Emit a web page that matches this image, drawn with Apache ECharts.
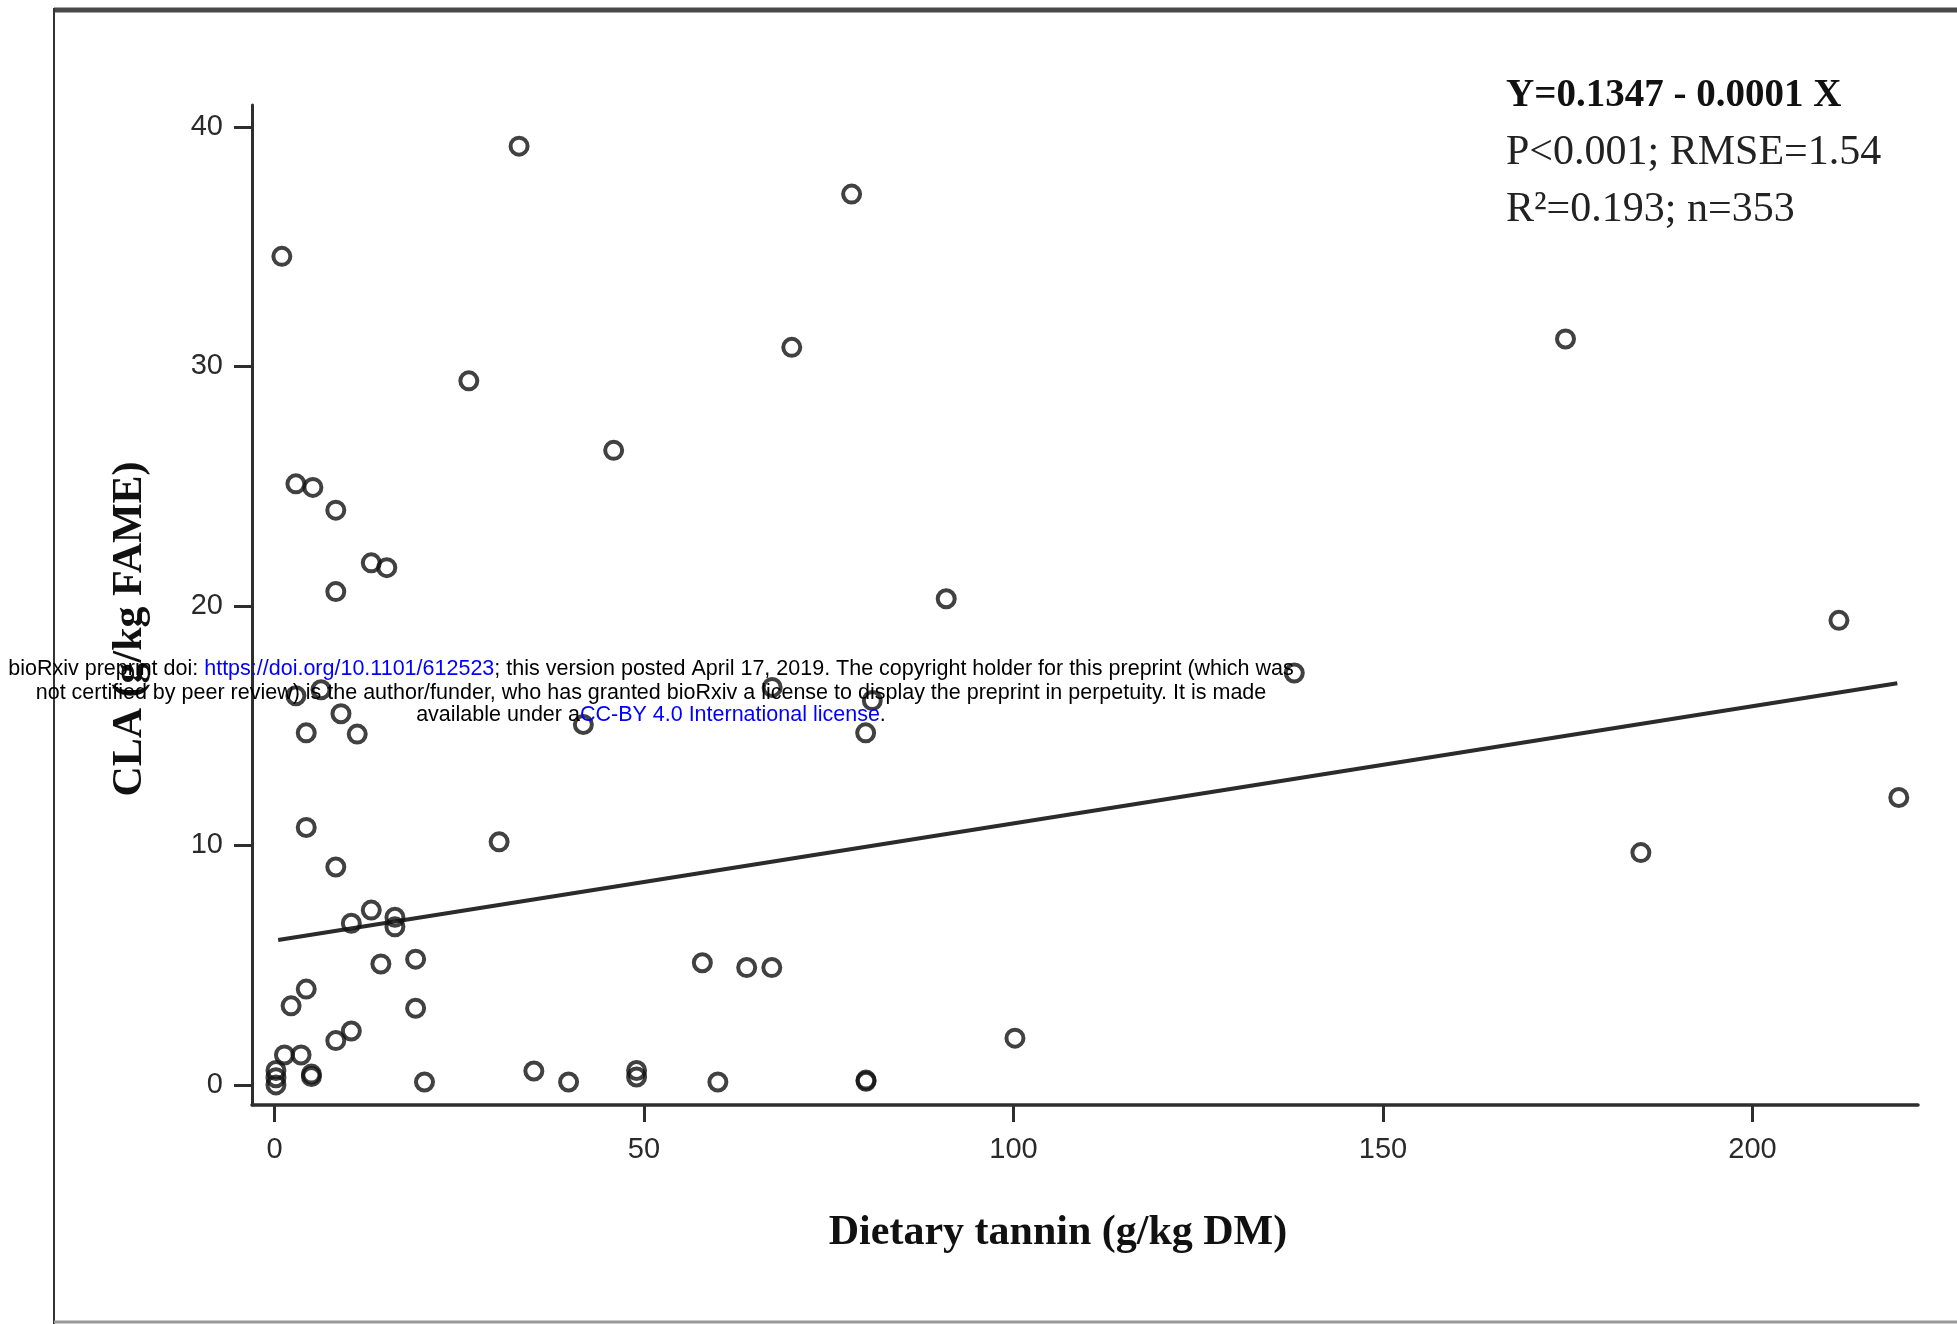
<!DOCTYPE html>
<html>
<head>
<meta charset="utf-8">
<title>CLA vs dietary tannin</title>
<script src="https://cdn.jsdelivr.net/npm/echarts@6/dist/echarts.min.js"></script>
<style>
html, body { margin: 0; padding: 0; background: #fff; }
#main { width: 1957px; height: 1324px; }
</style>
</head>
<body>
<div id="main"></div>
<script>
// 数据
var tanninX = [33.1, 78.1, 1.0, 174.7, 70.0, 26.3, 45.9, 2.9, 5.2, 8.3,
	13.1, 15.2, 8.3, 90.9, 211.7, 138.0, 67.35, 80.9, 2.9, 6.3,
	9.0, 4.3, 11.2, 41.8, 80.0, 219.8, 4.3, 30.4, 184.9, 8.3,
	13.1, 16.3, 16.3, 10.4, 14.4, 19.1, 57.9, 63.9, 67.3, 4.3,
	2.25, 19.1, 100.2, 10.4, 8.3, 1.35, 3.6, 0.2, 0.2, 0.2,
	5.0, 5.0, 20.3, 35.1, 39.8, 49.0, 49.0, 60.0, 80.05, 80.05];
var claY = [39.2, 37.2, 34.6, 31.15, 30.8, 29.4, 26.5, 25.1, 24.95, 24.0,
	21.8, 21.6, 20.6, 20.3, 19.4, 17.2, 16.6, 16.05, 16.25, 16.5,
	15.5, 14.7, 14.65, 15.05, 14.7, 12.0, 10.75, 10.15, 9.7, 9.1,
	7.3, 7.0, 6.6, 6.75, 5.05, 5.25, 5.1, 4.9, 4.9, 4.0,
	3.3, 3.2, 1.95, 2.25, 1.85, 1.25, 1.25, 0.6, 0.3, 0.0,
	0.45, 0.35, 0.12, 0.58, 0.12, 0.6, 0.33, 0.12, 0.2, 0.15];

// 回归线两端
var fitX = [0.5, 219.6];
var fitY = [6.05, 16.77];

var xTicks = [0, 50, 100, 150, 200];
var yTicks = [0, 10, 20, 30, 40];

var statLines = ['Y=0.1347 - 0.0001 X', 'P<0.001; RMSE=1.54', 'R\u00b2=0.193; n=353'];

var myChart = echarts.init(document.getElementById('main'));

var points = [];
for (var i = 0; i < tanninX.length; i++) {
	points.push([tanninX[i], claY[i]]);
}
var fitLine = [];
for (var j = 0; j < fitX.length; j++) {
	fitLine.push([fitX[j], fitY[j]]);
}

var serif = '"Liberation Serif", "Times New Roman", serif';
var sans = '"Liberation Sans", Arial, sans-serif';

option = {
	backgroundColor: '#fff',
	animation: false,
	grid: {
		left: 252,
		right: 39,
		top: 105,
		bottom: 219
	},
	xAxis: {
		type: 'value',
		min: -3.04,
		max: 222.4,
		splitLine: { show: false },
		axisLine: { onZero: false, lineStyle: { color: '#2e2e2e', width: 3.5 } },
		axisTick: {
			customValues: xTicks,
			length: 17,
			lineStyle: { color: '#2e2e2e', width: 3 }
		},
		axisLabel: {
			customValues: xTicks,
			margin: 30,
			color: '#2a2a2a',
			fontFamily: sans,
			fontSize: 29
		}
	},
	yAxis: {
		type: 'value',
		min: -0.84,
		max: 40.92,
		splitLine: { show: false },
		axisLine: { show: true, onZero: false, lineStyle: { color: '#2e2e2e', width: 3 } },
		axisTick: {
			show: true,
			customValues: yTicks,
			length: 18,
			lineStyle: { color: '#2e2e2e', width: 3 }
		},
		axisLabel: {
			customValues: yTicks,
			margin: 29,
			color: '#2a2a2a',
			fontFamily: sans,
			fontSize: 29
		}
	},
	series: [{
		type: 'scatter',
		data: points,
		symbol: 'circle',
		symbolSize: 17,
		itemStyle: {
			color: 'rgba(0,0,0,0)',
			borderColor: '#111',
			borderWidth: 4
		},
		z: 3
	}, {
		type: 'line',
		data: fitLine,
		showSymbol: false,
		lineStyle: { color: '#2b2b2b', width: 4 },
		z: 2
	}],
	graphic: [
		// 外框
		{ type: 'line', shape: { x1: 54, y1: 10, x2: 1957, y2: 10 }, style: { stroke: '#4a4a4a', lineWidth: 5 } },
		{ type: 'line', shape: { x1: 54, y1: 8, x2: 54, y2: 1324 }, style: { stroke: '#333', lineWidth: 2 } },
		{ type: 'line', shape: { x1: 54, y1: 1322, x2: 1957, y2: 1322 }, style: { stroke: '#9a9a9a', lineWidth: 3 } },
		// 坐标轴标题
		{
			type: 'text', x: 1058, y: 1233,
			style: { text: 'Dietary tannin (g/kg DM)', fill: '#111', font: 'bold 42px ' + serif, textAlign: 'center', textVerticalAlign: 'middle' }
		},
		{
			type: 'text', x: 130, y: 629, rotation: Math.PI / 2,
			style: { text: 'CLA (g/kg FAME)', fill: '#111', font: 'bold 42px ' + serif, textAlign: 'center', textVerticalAlign: 'middle' }
		},
		// 回归统计
		{
			type: 'text', x: 1506, y: 96,
			style: { text: statLines[0], fill: '#111', font: 'bold 39px ' + serif, textAlign: 'left', textVerticalAlign: 'middle' }
		},
		{
			type: 'text', x: 1506, y: 153,
			style: { text: statLines[1], fill: '#222', font: '42px ' + serif, textAlign: 'left', textVerticalAlign: 'middle' }
		},
		{
			type: 'text', x: 1506, y: 210,
			style: { text: statLines[2], fill: '#222', font: '42px ' + serif, textAlign: 'left', textVerticalAlign: 'middle' }
		},
		// bioRxiv 水印
		{
			type: 'text', x: 651, y: 669, z: 100,
			style: {
				text: '{k|bioRxiv preprint doi: }{b|https://doi.org/10.1101/612523}{k|; this version posted April 17, 2019. The copyright holder for this preprint (which was}',
				textAlign: 'center', textVerticalAlign: 'middle',
				rich: {
					k: { fill: '#000', font: '21.5px ' + sans },
					b: { fill: '#0000ff', font: '21.5px ' + sans }
				}
			}
		},
		{
			type: 'text', x: 651, y: 693, z: 100,
			style: {
				text: 'not certified by peer review) is the author/funder, who has granted bioRxiv a license to display the preprint in perpetuity. It is made',
				fill: '#000', font: '21.5px ' + sans, textAlign: 'center', textVerticalAlign: 'middle'
			}
		},
		{
			type: 'text', x: 651, y: 715, z: 100,
			style: {
				text: '{k|available under a}{b|CC-BY 4.0 International license}{k|.}',
				textAlign: 'center', textVerticalAlign: 'middle',
				rich: {
					k: { fill: '#000', font: '21.5px ' + sans },
					b: { fill: '#0000ff', font: '21.5px ' + sans }
				}
			}
		}
	]
};

myChart.setOption(option);
</script>
</body>
</html>
